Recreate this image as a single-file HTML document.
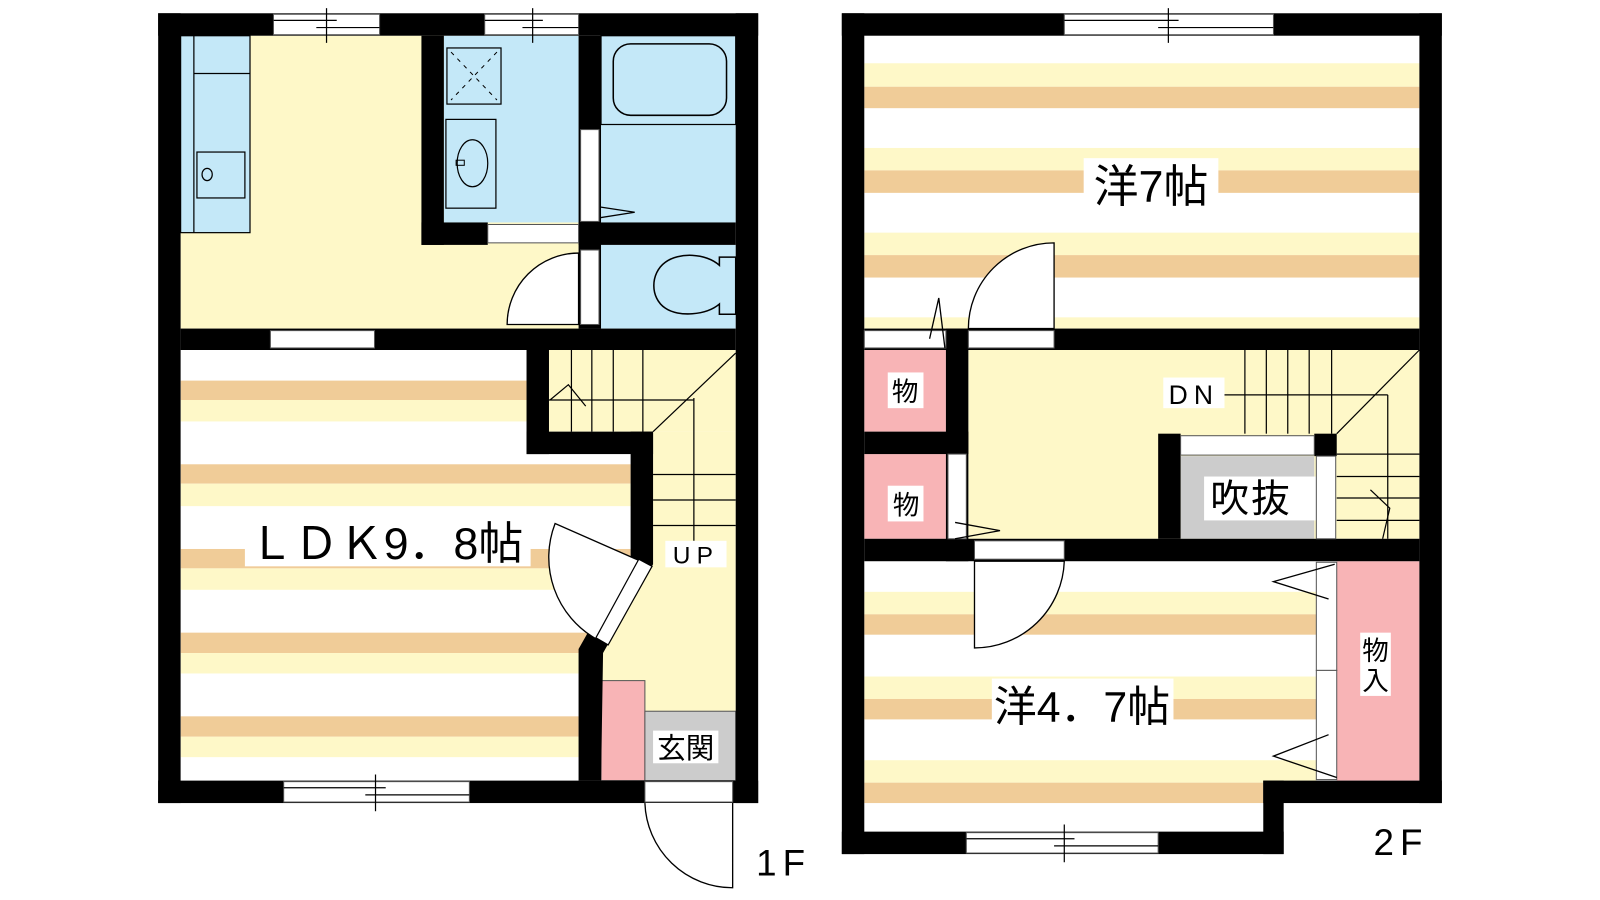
<!DOCTYPE html>
<html><head><meta charset="utf-8"><style>
html,body{margin:0;padding:0;background:#fff;}
svg{display:block;}
text{font-family:"Liberation Sans","Noto Sans CJK JP",sans-serif;fill:#000;}
</style></head><body>
<svg width="1600" height="900" viewBox="0 0 1568 882" xmlns="http://www.w3.org/2000/svg">
<defs>
<clipPath id="ldk"><polygon points="177,343 516,343 516,445 618,445 618,550 567,640 567,765 177,765"/></clipPath>
</defs>
<!-- ========== 1F ========== -->
<rect x="177" y="35" width="390" height="287" fill="#fef8c8"/>
<rect x="177" y="35" width="68" height="193" fill="#c4e8f8" stroke="#000" stroke-width="1.2"/>
<line x1="190" y1="35" x2="190" y2="228" stroke="#000" stroke-width="1.2"/>
<line x1="190" y1="72" x2="245" y2="72" stroke="#000" stroke-width="1.2"/>
<rect x="193" y="149" width="47" height="45" fill="none" stroke="#000" stroke-width="1.2"/>
<ellipse cx="203" cy="171" rx="5" ry="6" fill="none" stroke="#000" stroke-width="1.2"/>
<rect x="435" y="35" width="132" height="183" fill="#c4e8f8"/>
<rect x="438" y="47" width="53" height="55" fill="none" stroke="#000" stroke-width="1.2"/>
<line x1="442" y1="51" x2="487" y2="98" stroke="#000" stroke-dasharray="4,5"/>
<line x1="487" y1="51" x2="442" y2="98" stroke="#000" stroke-dasharray="4,5"/>
<rect x="437" y="117" width="49" height="87" fill="none" stroke="#000" stroke-width="1.2"/>
<ellipse cx="463" cy="160" rx="15" ry="23" fill="none" stroke="#000" stroke-width="1.2"/>
<rect x="447" y="157" width="8" height="5" fill="none" stroke="#000"/>
<rect x="589" y="35" width="132" height="183" fill="#c4e8f8"/>
<rect x="589" y="35" width="132" height="87" fill="none" stroke="#000" stroke-width="1.2"/>
<rect x="601" y="43" width="111" height="70" rx="17" fill="none" stroke="#000" stroke-width="1.5"/>
<polyline points="576,201 622,208 571,216" fill="none" stroke="#000" stroke-width="1.3"/>
<rect x="589" y="240" width="132" height="82" fill="#c4e8f8"/>
<path d="M705,260 C692,248 665,247 652,257 C637,268 637,292 652,302 C665,311 692,309 705,298 L705,308 L721,308 L721,252 L705,252 Z" fill="none" stroke="#000" stroke-width="1.5"/>
<path d="M567,248 A70,70 0 0 0 497,318 L567,318 Z" fill="#fff" stroke="#000" stroke-width="1.3"/>
<g clip-path="url(#ldk)">
<rect x="177" y="343" width="450" height="422" fill="#fff"/>
<g fill="#f0cc98"><rect x="177" y="373" width="450" height="19"/><rect x="177" y="455" width="450" height="19"/><rect x="177" y="538" width="450" height="19"/><rect x="177" y="620" width="450" height="20"/><rect x="177" y="702" width="450" height="20"/></g>
<g fill="#fef8c8"><rect x="177" y="392" width="450" height="21"/><rect x="177" y="474" width="450" height="22"/><rect x="177" y="557" width="450" height="21"/><rect x="177" y="640" width="450" height="20"/><rect x="177" y="722" width="450" height="20"/></g>
</g>
<rect x="538" y="343" width="183" height="80" fill="#fef8c8"/>
<polygon points="640,423 721,423 721,697 589,697 589,640 640,550" fill="#fef8c8"/>
<g stroke="#000" stroke-width="1.2" fill="none">
<line x1="560" y1="343" x2="560" y2="423"/><line x1="580" y1="343" x2="580" y2="423"/><line x1="601" y1="343" x2="601" y2="423"/><line x1="630" y1="343" x2="630" y2="423"/>
<line x1="538" y1="392" x2="680" y2="392"/>
<line x1="721" y1="346" x2="640" y2="423"/>
<line x1="680" y1="390" x2="680" y2="530"/>
<line x1="640" y1="465" x2="721" y2="465"/><line x1="640" y1="490" x2="721" y2="490"/><line x1="640" y1="515" x2="721" y2="515"/>
<polyline points="539,392 557,377 574,398"/>
</g>
<rect x="589" y="667" width="43" height="98" fill="#f8b4b6" stroke="#555" stroke-width="1"/>
<rect x="632" y="697" width="89" height="68" fill="#cccccc" stroke="#555" stroke-width="1"/>
<rect x="640" y="716" width="64" height="32" fill="#fff"/>
<text x="672" y="743" font-size="28" text-anchor="middle">玄関</text>
<g fill="#000">
<rect x="155" y="13" width="588" height="22"/>
<rect x="155" y="13" width="22" height="774"/>
<rect x="721" y="13" width="22" height="774"/>
<rect x="155" y="765" width="588" height="22"/>
<rect x="177" y="322" width="544" height="21"/>
<rect x="413" y="35" width="22" height="205"/>
<rect x="413" y="218" width="65" height="22"/>
<rect x="567" y="35" width="22" height="287"/>
<rect x="567" y="218" width="154" height="22"/>
<rect x="516" y="343" width="22" height="102"/>
<rect x="516" y="423" width="124" height="22"/>
<polygon points="618,423 640,423 640,553 591,640 589,765 567,765 567,636 618,546"/>
</g>
<rect x="569" y="127" width="18" height="90" fill="#fff" stroke="#555"/>
<rect x="569" y="245" width="18" height="73" fill="#fff" stroke="#555"/>
<rect x="478" y="220" width="89" height="18" fill="#fff" stroke="#555"/>
<rect x="265" y="324" width="102" height="17" fill="#fff" stroke="#555"/>
<rect x="632" y="766" width="86" height="20" fill="#fff" stroke="#555"/>
<path d="M718,787 L718,870 A86,86 0 0 1 632,787" fill="#fff" stroke="#000" stroke-width="1.3"/>
<path d="M628,550 L544,513 A92,92 0 0 0 584,626" fill="#fff" stroke="#000" stroke-width="1.3"/>
<polygon points="626,548 639,555 596,632 584,625" fill="#fff" stroke="#000" stroke-width="1.2"/>
<g stroke="#555" stroke-width="1">
<rect x="268" y="14" width="104" height="20" fill="#fff"/><rect x="475" y="14" width="92" height="20" fill="#fff"/>
<rect x="278" y="766" width="182" height="20" fill="#fff"/>
</g>
<g stroke="#000" stroke-width="1.2">
<line x1="268" y1="20" x2="330" y2="20"/><line x1="310" y1="27" x2="372" y2="27"/><line x1="320" y1="8" x2="320" y2="42"/>
<line x1="475" y1="20" x2="532" y2="20"/><line x1="512" y1="27" x2="567" y2="27"/><line x1="522" y1="8" x2="522" y2="42"/>
<line x1="278" y1="772" x2="378" y2="772"/><line x1="358" y1="779" x2="460" y2="779"/><line x1="368" y1="759" x2="368" y2="795"/>
</g>
<rect x="240" y="510" width="280" height="45" fill="#fff"/>
<text x="244" y="548" font-size="44">ＬＤＫ9．8帖</text>
<rect x="652" y="530" width="60" height="26" fill="#fff"/>
<text x="682" y="552" font-size="24" text-anchor="middle" letter-spacing="6">UP</text>
<text x="768" y="858" font-size="36" text-anchor="middle" letter-spacing="6">1F</text>

<!-- ========== 2F ========== -->
<rect x="847" y="35" width="544" height="287" fill="#fff"/>
<g fill="#fef8c8"><rect x="847" y="62" width="544" height="23"/><rect x="847" y="145" width="544" height="22"/><rect x="847" y="228" width="544" height="22"/><rect x="847" y="311" width="544" height="11"/></g>
<g fill="#f0cc98"><rect x="847" y="85" width="544" height="21"/><rect x="847" y="167" width="544" height="22"/><rect x="847" y="250" width="544" height="22"/></g>
<path d="M1033,322 L1033,238 A84,84 0 0 0 949,322 Z" fill="#fff" stroke="#000" stroke-width="1.3"/>
<rect x="1062" y="155" width="132" height="50" fill="#fff"/>
<text x="1128" y="198" font-size="44" text-anchor="middle">洋7帖</text>
<rect x="949" y="343" width="442" height="185" fill="#fef8c8"/>
<rect x="847" y="343" width="80" height="80" fill="#f8b4b6"/>
<rect x="847" y="445" width="80" height="83" fill="#f8b4b6"/>
<rect x="870" y="365" width="35" height="35" fill="#fff"/><text x="887" y="393" font-size="26" text-anchor="middle">物</text>
<rect x="870" y="476" width="35" height="35" fill="#fff"/><text x="888" y="504" font-size="26" text-anchor="middle">物</text>
<g stroke="#000" stroke-width="1.2" fill="none">
<line x1="1220" y1="343" x2="1220" y2="425"/><line x1="1241" y1="343" x2="1241" y2="425"/><line x1="1262" y1="343" x2="1262" y2="425"/><line x1="1283" y1="343" x2="1283" y2="425"/><line x1="1305" y1="343" x2="1305" y2="425"/>
<line x1="1197" y1="387" x2="1360" y2="387"/>
<line x1="1391" y1="343" x2="1310" y2="425"/>
<line x1="1360" y1="387" x2="1360" y2="528"/>
<line x1="1310" y1="445" x2="1391" y2="445"/><line x1="1310" y1="467" x2="1391" y2="467"/><line x1="1310" y1="488" x2="1391" y2="488"/><line x1="1310" y1="510" x2="1391" y2="510"/>
<polyline points="1343,480 1362,498 1355,528"/>
</g>
<rect x="1140" y="370" width="60" height="30" fill="#fff"/>
<text x="1170" y="396" font-size="26" text-anchor="middle" letter-spacing="6">DN</text>
<rect x="1157" y="447" width="131" height="81" fill="#cccccc"/>
<rect x="1180" y="467" width="112" height="43" fill="#fff"/>
<text x="1226" y="502" font-size="38" text-anchor="middle" letter-spacing="2">吹抜</text>
<rect x="847" y="550" width="443" height="265" fill="#fff"/>
<g fill="#fef8c8"><rect x="847" y="580" width="443" height="22"/><rect x="847" y="663" width="443" height="22"/><rect x="847" y="745" width="443" height="22"/></g>
<g fill="#f0cc98"><rect x="847" y="602" width="443" height="20"/><rect x="847" y="685" width="443" height="20"/><rect x="847" y="767" width="391" height="20"/></g>
<rect x="1310" y="550" width="81" height="215" fill="#f8b4b6"/>
<rect x="1333" y="620" width="30" height="62" fill="#fff"/>
<text x="1348" y="647" font-size="26" text-anchor="middle">物</text>
<text x="1348" y="676" font-size="26" text-anchor="middle">入</text>
<path d="M955,550 L955,635 A88,88 0 0 0 1043,550 Z" fill="#fff" stroke="#000" stroke-width="1.3"/>
<rect x="972" y="665" width="178" height="50" fill="#fff"/>
<text x="974" y="707" font-size="42">洋4．7帖</text>
<g fill="#000">
<rect x="825" y="13" width="588" height="22"/>
<rect x="825" y="13" width="22" height="824"/>
<rect x="1391" y="13" width="22" height="774"/>
<rect x="1238" y="765" width="175" height="22"/>
<rect x="1238" y="765" width="20" height="72"/>
<rect x="825" y="815" width="433" height="22"/>
<rect x="847" y="322" width="544" height="21"/>
<rect x="927" y="322" width="22" height="228"/>
<rect x="847" y="423" width="102" height="22"/>
<rect x="847" y="528" width="544" height="22"/>
<rect x="1135" y="425" width="22" height="103"/>
<rect x="1288" y="425" width="22" height="22"/>
</g>
<rect x="847" y="324" width="80" height="17" fill="#fff" stroke="#555"/>
<rect x="949" y="324" width="84" height="17" fill="#fff" stroke="#555"/>
<polyline points="911,332 920,292 926,341" fill="none" stroke="#000" stroke-width="1.3"/>
<rect x="929" y="445" width="18" height="83" fill="#fff" stroke="#555"/>
<polyline points="936,512 980,520 936,528" fill="none" stroke="#000" stroke-width="1.3"/>
<rect x="955" y="530" width="88" height="18" fill="#fff" stroke="#555"/>
<rect x="1157" y="427" width="131" height="19" fill="#fff" stroke="#555"/>
<rect x="1290" y="447" width="19" height="81" fill="#fff" stroke="#555"/>
<rect x="1290" y="551" width="20" height="106" fill="#fff" stroke="#555"/>
<rect x="1290" y="657" width="20" height="107" fill="#fff" stroke="#555"/>
<polyline points="1308,553 1248,570 1302,587" fill="none" stroke="#000" stroke-width="1.3"/>
<polyline points="1302,720 1248,741 1310,762" fill="none" stroke="#000" stroke-width="1.3"/>
<g stroke="#555" stroke-width="1">
<rect x="1043" y="14" width="205" height="20" fill="#fff"/>
<rect x="947" y="816" width="188" height="20" fill="#fff"/>
</g>
<g stroke="#000" stroke-width="1.2">
<line x1="1043" y1="20" x2="1155" y2="20"/><line x1="1135" y1="27" x2="1248" y2="27"/><line x1="1145" y1="8" x2="1145" y2="42"/>
<line x1="947" y1="822" x2="1053" y2="822"/><line x1="1033" y1="829" x2="1135" y2="829"/><line x1="1043" y1="808" x2="1043" y2="845"/>
</g>
<text x="1373" y="838" font-size="36" text-anchor="middle" letter-spacing="6">2F</text>
</svg>
</body></html>
